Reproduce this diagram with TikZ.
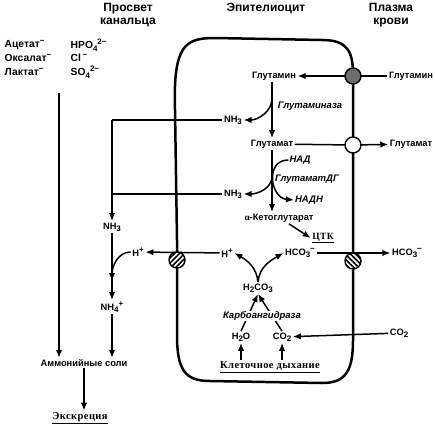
\documentclass[tikz,border=0pt]{standalone}
\usepackage{fontspec}
\setmainfont{Liberation Sans}
\newfontfamily\serifru{Liberation Serif}[LetterSpace=4]
\usepackage{xcolor}
\usetikzlibrary{arrows.meta, patterns.meta}
\definecolor{pumpgray}{RGB}{110,110,110}
\newcommand{\lo}[1]{\raisebox{-0.4ex}{\fontsize{8}{9}\selectfont #1}}
\newcommand{\hi}[1]{\raisebox{0.8ex}{\fontsize{8}{9}\selectfont #1}}

\begin{document}
\begin{tikzpicture}[x=1pt, y=1pt,
    head/.style={font=\fontsize{12}{13}\selectfont\bfseries, align=center, inner sep=0pt},
    lbl/.style={font=\fontsize{9.3}{10}\selectfont\bfseries, inner sep=1.5pt},
    anion/.style={font=\fontsize{10.3}{11}\selectfont\bfseries, inner sep=1.5pt, anchor=west},
    enz/.style={font=\fontsize{9.5}{10}\selectfont\bfseries\itshape, inner sep=1pt},
    ulbl/.style={font=\fontsize{10.5}{11}\selectfont\serifru\bfseries, inner sep=1.5pt},
    pump/.style={circle, draw, line width=1.4pt, minimum size=16pt, inner sep=0pt},
    hatch/.style={pump, preaction={fill=white}, pattern={Lines[angle=#1, distance=3.6pt, line width=1.6pt]}},
    line/.style={draw, -{Latex[length=8pt, width=6.5pt]}, line width=1.5pt},
    link/.style={draw, line width=1.5pt},
    wall/.style={draw, line width=2.5pt, line join=round}]

    \useasboundingbox (0,0) rectangle (435,-428);

    \node [head] (lumen) at (128,-15) {Просвет\\канальца};
    \node [head] (cell) at (266,-9) {Эпителиоцит};
    \node [head] (plasma) at (391,-15) {Плазма\\крови};

    \node [anion] (acet) at (3,-45) {Ацетат\hi{−}};
    \node [anion] (oxal) at (3,-58) {Оксалат\hi{−}};
    \node [anion] (lact) at (3,-72) {Лактат\hi{−}};
    \node [anion] (hpo) at (69,-45) {HPO\lo{4}\hi{2−}};
    \node [anion] (chl) at (69,-58) {Cl\,\hi{−}};
    \node [anion] (sulf) at (69,-72) {SO\lo{4}\hi{2−}};

    \path [wall] (175,-110) .. controls (173,-45) and (185,-38) .. (215,-38) -- (322,-40)
        .. controls (348,-40) and (353,-52) .. (353,-75) -- (353,-340)
        .. controls (353,-372) and (345,-383) .. (322,-383) -- (210,-381)
        .. controls (185,-381) and (177,-370) .. (177,-335) -- (177,-240) -- cycle;

    \node [lbl] (glnin) at (274,-76) {Глутамин};
    \node [lbl] (glnout) at (411,-76) {Глутамин};
    \node [enz] (glnase) at (310,-106) {Глутаминаза};
    \node [lbl] (nh3a) at (233,-120) {NH\lo{3}};
    \node [lbl] (glu) at (272,-144) {Глутамат};
    \node [lbl] (gluout) at (411,-144) {Глутамат};
    \node [enz] (nad) at (300,-160) {НАД};
    \node [enz] (gdh) at (307,-179) {ГлутаматДГ};
    \node [enz] (nadh) at (309,-200) {НАДН};
    \node [lbl] (nh3b) at (233,-194) {NH\lo{3}};
    \node [lbl] (akg) at (279,-218) {{\fontspec{Liberation Serif}α}-Кетоглутарат};
    \node [ulbl, font=\fontsize{9.5}{10}\selectfont\serifru\bfseries] (tca) at (323,-238) {\underline{ЦТК}};
    \node [lbl] (hin) at (227,-253) {H\hi{+}};
    \node [lbl] (hco3in) at (300,-253) {HCO\lo{3}\hi{−}};
    \node [lbl] (hout) at (138,-252) {H\hi{+}};
    \node [lbl] (hco3out) at (407,-253) {HCO\lo{3}\hi{−}};
    \node [lbl] (h2co3) at (258,-288) {H\lo{2}CO\lo{3}};
    \node [lbl] (h2o) at (241,-337) {H\lo{2}O};
    \node [lbl] (co2in) at (282,-337) {CO\lo{2}};
    \node [lbl] (co2out) at (399,-333) {CO\lo{2}};
    \node [ulbl] (resp) at (270,-367) {\underline{Клеточное дыхание}};
    \node [lbl] (nh3c) at (112,-227) {NH\lo{3}};
    \node [lbl] (nh4) at (112,-307) {NH\lo{4}\hi{+}};
    \node [lbl] (salts) at (84,-363) {Аммонийные соли};
    \node [ulbl] (excr) at (80,-418) {\underline{Экскреция}};

    \coordinate (gsplit) at (272,-98);
    \coordinate (dsplit) at (272,-176);
    \coordinate (j1) at (nh3a -| nh3c);
    \coordinate (j2) at (nh3b -| nh3c);
    \coordinate (j3) at (112,-281);
    \coordinate (lumtop) at (59,-93);

    \path [link] (glnout) -- (353,-76);
    \path [line] (353,-76) -- (glnin);
    \path [line] (glnin.south -| glu) -- (glu);
    \path [line] (gsplit) to[out=-90, in=0] (nh3a.east);
    \path [link] (glu) -- (353,-145);
    \path [line] (353,-145) -- (gluout);
    \path [line] (glu) -- (glu |- akg.north);
    \path [line] (nad.west) to[out=180, in=175, looseness=1.5] (nadh.west);
    \path [line] (dsplit) to[out=-90, in=0] (nh3b.east);
    \path [line] ([xshift=10pt]akg.south) -- (tca.west);
    \path [line] (hin) -- (hout);
    \path [line] (hco3in) -- (hco3out);
    \path [line] (h2co3.north) to[out=95, in=-30] (hin.east);
    \path [line] (h2co3.north) to[out=85, in=210] (hco3in.west);
    \path [line] (h2o.north) -- (h2co3.south);
    \path [line] (co2in.north) -- (h2co3.south);
    \path [line] (co2out) -- (co2in);
    \path [line] (resp.north -| h2o) -- (h2o);
    \path [line] (resp.north -| co2in) -- (co2in);
    \path [link] (nh3a.west) -- (j1);
    \path [link] (nh3b.west) -- (j2);
    \path [line] (j1) -- (nh3c);
    \path [line] (nh3c) -- (nh4);
    \path [line] (hout.west) to[out=180, in=90] (j3);
    \path [line] (lumtop) -- (lumtop |- salts.north);
    \path [line] (nh4) -- (nh4 |- salts.north);
    \path [line] (salts) -- (salts |- excr.north);

    \node [enz, fill=white] (ca) at (262,-316) {Карбоангидраза};
    \node [pump, fill=pumpgray] (gltr) at (353,-76) {};
    \node [pump, fill=white] (glutr) at (353,-145) {};
    \node [hatch=45] (nhe) at (177,-260) {};
    \node [hatch=-45] (aex) at (353,-261) {};
\end{tikzpicture}
\end{document}
